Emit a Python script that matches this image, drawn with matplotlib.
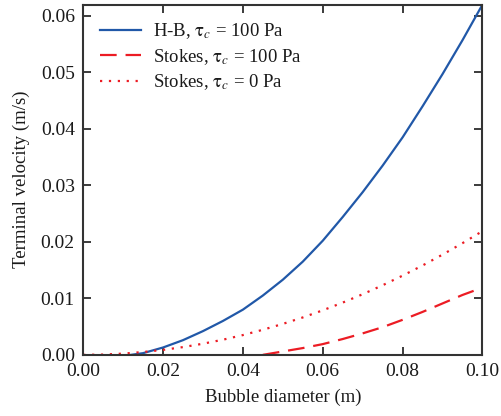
import matplotlib
matplotlib.use("Agg")
import matplotlib.pyplot as plt
import numpy as np

plt.rcParams['font.family'] = ['Liberation Serif', 'DejaVu Serif']
plt.rcParams['mathtext.fontset'] = 'stix'
plt.rcParams['font.size'] = 13

# bubble diameter (m), 5 mm steps
d = np.array([0.000, 0.005, 0.010, 0.015, 0.020, 0.025, 0.030, 0.035, 0.040, 0.045, 0.050,
              0.055, 0.060, 0.065, 0.070, 0.075, 0.080, 0.085, 0.090, 0.095, 0.100])

# Herschel-Bulkley, yield stress 100 Pa (starts moving around 12 mm)
d_hb = np.concatenate(([0.012], d[3:]))
v_hb = [0.0, 0.0003, 0.0013, 0.0026, 0.0042, 0.0060, 0.0080, 0.0105, 0.0133,
        0.0165, 0.0202, 0.0244, 0.0288, 0.0335, 0.0385, 0.0440, 0.0497, 0.0557, 0.0620]

# Stokes, yield stress 100 Pa
d_st100 = d[9:]
v_st100 = [0.0, 0.0006, 0.0012, 0.0019, 0.0028, 0.0038, 0.0049, 0.0062,
           0.0076, 0.0091, 0.0106, 0.0119]

# Stokes, no yield stress
v_st0 = [0.0, 0.00005, 0.00022, 0.0005, 0.00088, 0.00137, 0.00197, 0.00268, 0.0035,
         0.00444, 0.00548, 0.00662, 0.00788, 0.00925, 0.01073, 0.01232, 0.01402,
         0.01582, 0.01774, 0.01977, 0.0219]

blue = '#2158a8'
red = '#ec1c24'

fig = plt.figure(figsize=(5.01, 4.16), dpi=100)
ax = fig.add_axes([0.166, 0.147, 0.797, 0.842])

tau = r'$\mathrm{\tau}_c$'
ax.plot(d_hb, v_hb, color=blue, lw=1.6, label='H-B, ' + tau + ' = 100 Pa')
ax.plot(d_st100, v_st100, color=red, lw=1.6, dashes=(7.5, 4), label='Stokes, ' + tau + ' = 100 Pa')
ax.plot(d, v_st0, color=red, lw=1.6, linestyle=(0, (1, 3)), label='Stokes, ' + tau + ' = 0 Pa')

ax.set_xlim(0, 0.10)
ax.set_ylim(0, 0.062)
ax.set_xticks(np.arange(0, 0.101, 0.02))
ax.set_yticks(np.arange(0, 0.061, 0.01))
ax.xaxis.set_major_formatter(matplotlib.ticker.FormatStrFormatter('%.2f'))
ax.yaxis.set_major_formatter(matplotlib.ticker.FormatStrFormatter('%.2f'))
ax.tick_params(direction='in', top=True, right=True, length=6, width=1.2,
               colors='#1a1a1a', labelsize=14, pad=6)
for s in ax.spines.values():
    s.set_linewidth(1.5)
    s.set_color('#333333')

ax.set_xlabel('Bubble diameter (m)', fontsize=13.5, color='#1a1a1a', labelpad=6)
ax.set_ylabel('Terminal velocity (m/s)', fontsize=13.5, color='#1a1a1a', labelpad=8)

leg = ax.legend(loc='upper left', frameon=False, handlelength=2.2, handletextpad=0.65,
                labelspacing=0.3, borderaxespad=0.5, fontsize=13.5)
for t in leg.get_texts():
    t.set_color('#1a1a1a')

fig.savefig('out.png', dpi=100)
